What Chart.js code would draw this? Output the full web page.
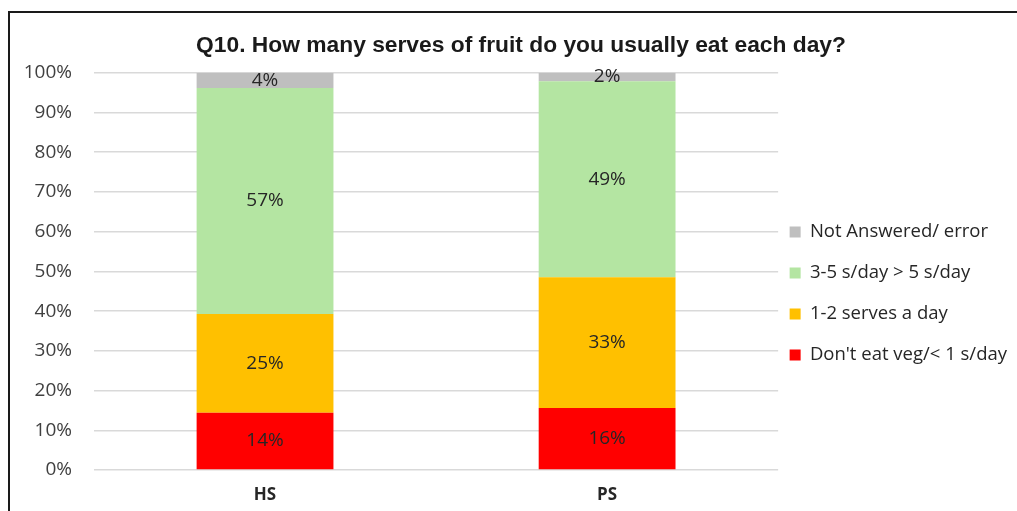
<!DOCTYPE html>
<html><head><meta charset="utf-8">
<script src="https://cdn.jsdelivr.net/npm/chart.js@4/dist/chart.umd.min.js"></script>
<style>
html,body{margin:0;padding:0;background:#fff;}
#wrap{position:relative;width:1017px;height:511px;overflow:hidden;}
#frame{position:absolute;left:8px;top:11px;width:1100px;height:600px;border:2px solid #1a1a1a;box-sizing:border-box;pointer-events:none;}
canvas{position:absolute;left:0;top:0;}
</style></head><body>
<div id="wrap"><canvas id="c" width="1017" height="511"></canvas><div id="frame"></div></div>
<script>
const categories = ['HS', 'PS'];
const seriesNames = ["Don't eat veg/< 1 s/day", '1-2 serves a day', '3-5 s/day > 5 s/day', 'Not Answered/ error'];
const dontEat = [14.4, 15.6];
const oneTwo = [24.9, 32.9];
const threeFive = [56.9, 49.4];
const notAnswered = [3.8, 2.1];
const seriesColors = ['#ff0000', '#ffc000', '#b4e5a2', '#bfbfbf'];
const yMin = 0, yMax = 100, yStep = 10;

const FONT = "'Open Sans', 'Liberation Sans', sans-serif";
const LEGEND_SHIFT_Y = 28;
const LEGEND_SHIFT_X = -11;
const TITLE_SHIFT_X = 7;
const PAD_R = -11;

const labelPlugin = {
  id: 'segLabels',
  afterDatasetsDraw(chart) {
    const ctx = chart.ctx;
    ctx.save();
    ctx.font = "19px " + FONT;
    ctx.fillStyle = '#262626';
    ctx.textAlign = 'center';
    ctx.textBaseline = 'middle';
    chart.data.datasets.forEach((ds, di) => {
      const meta = chart.getDatasetMeta(di);
      meta.data.forEach((el, i) => {
        const v = ds.data[i];
        ctx.fillText(Math.round(v) + '%', el.x, (el.y + el.base) / 2);
      });
    });
    ctx.restore();
  }
};
const boxShift = {
  id: 'boxShift',
  afterLayout(chart) {
    const lg = chart.legend;
    if (lg) {
      lg.top += LEGEND_SHIFT_Y; lg.bottom += LEGEND_SHIFT_Y;
      lg.left += LEGEND_SHIFT_X; lg.right += LEGEND_SHIFT_X;
    }
    const tb = chart.titleBlock;
    if (tb) { tb.left += TITLE_SHIFT_X; tb.right += TITLE_SHIFT_X; }
  }
};

new Chart(document.getElementById('c'), {
  type: 'bar',
  data: {
    labels: categories,
    datasets: [dontEat, oneTwo, threeFive, notAnswered].map((d, i) => ({
      label: seriesNames[i], data: d, backgroundColor: seriesColors[i], borderWidth: 0,
      categoryPercentage: 1.0, barPercentage: 0.4
    }))
  },
  options: {
    responsive: false, animation: false, devicePixelRatio: 1,
    layout: { padding: { top: 20, left: 0, right: PAD_R, bottom: 0 } },
    plugins: {
      title: { display: true, text: 'Q10. How many serves of fruit do you usually eat each day?',
        color: '#1a1a1a', font: { family: "'Liberation Sans Narrow', 'Liberation Sans', sans-serif", size: 22.8, weight: 'bold', lineHeight: 1.0 },
        padding: { top: 14, bottom: 16 } },
      legend: { position: 'right', reverse: true,
        labels: { boxWidth: 11, boxHeight: 11, padding: 22.5, color: '#262626', font: { family: FONT, size: 18.5 } } },
      tooltip: { enabled: false }
    },
    scales: {
      x: { stacked: true, grid: { display: false, drawTicks: false }, border: { display: false },
        ticks: { color: '#262626', padding: 15, font: { family: FONT, size: 17, weight: 'bold' } },
        afterFit(s) { s.height = 41; } },
      y: { stacked: true, min: yMin, max: yMax,
        grid: { color: '#d9d9d9', lineWidth: 1.5, drawTicks: false }, border: { display: false },
        ticks: { stepSize: yStep, padding: 22, color: '#404040', font: { family: FONT, size: 19 }, callback: v => v + '%' },
        afterFit(s) { s.width = 94; } }
    }
  },
  plugins: [labelPlugin, boxShift]
});
</script>
</body></html>
